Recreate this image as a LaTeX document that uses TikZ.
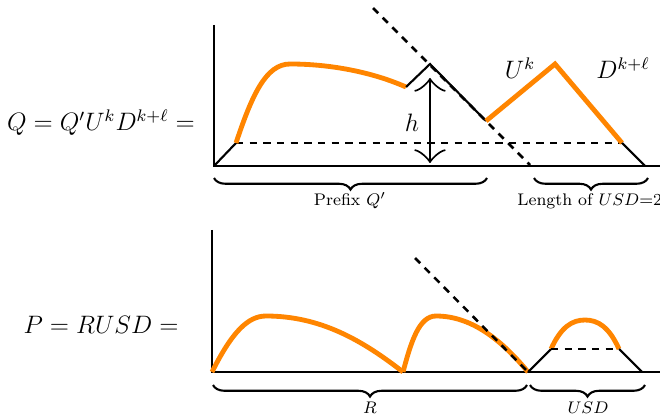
\documentclass[tikz,border=0pt]{standalone}
\usetikzlibrary{arrows.meta,decorations.pathreplacing}
\begin{document}
\begin{tikzpicture}[x=0.476pt,y=-0.476pt,
  axis/.style={line width=0.6pt},
  blk/.style={line width=1pt},
  org/.style={line width=2.3pt,draw={rgb,255:red,255;green,133;blue,0}},
  dsh/.style={line width=1.2pt,dash pattern=on 3.5pt off 3pt},
  brc/.style={decorate,decoration={brace,mirror,amplitude=5.5pt},line width=1pt},
  blab/.style={font=\footnotesize,inner sep=0pt},
  mlab/.style={font=\fontsize{11.5}{14}\selectfont,inner sep=0pt}]
\useasboundingbox (0,0) rectangle (660,418);
\clip (0,0) rectangle (660,418);
% ---------- top panel ----------
\coordinate (o1) at (214,166);
\coordinate (t1) at (214,25);
\coordinate (e1) at (662,166);
\coordinate (a1) at (236,143);
\coordinate (p1) at (290,64);
\coordinate (b1) at (406,87);
\coordinate (c1) at (430,64);
\coordinate (d1) at (486,121);
\coordinate (f1) at (555,64);
\coordinate (g1) at (622,143);
\coordinate (h1) at (645,166);
\coordinate (s1) at (373,8);
\coordinate (s2) at (530,165);
\coordinate (ar1) at (430,78);
\coordinate (ar2) at (430,163);
\draw[axis] (t1) -- (o1) -- (e1);
\draw[dsh] (s1) -- (s2);
\draw[dsh] (a1) -- (g1);
\draw[blk] (o1) -- (a1);
\draw[org] (a1) .. controls (252,95) and (266,64) .. (p1)
  .. controls (330,64) and (372,72) .. (b1);
\draw[blk] (b1) -- (c1) -- (d1);
\draw[org,line join=miter] (d1) -- (f1) -- (g1);
\draw[blk] (g1) -- (h1);
\draw[blk,{Classical TikZ Rightarrow[width=15pt,length=6.5pt]}-{Classical TikZ Rightarrow[width=15pt,length=6.5pt]}] (ar1) -- (ar2);
\node[mlab] (hl) at (412,123) {$h$};
\node[mlab] (uk) at (520,68) {$U^k$};
\node[mlab] (dk) at (623,68) {$D^{k+\ell}$};
\coordinate (bq1) at (214,178);
\coordinate (bq2) at (487,178);
\coordinate (bu1) at (534,178);
\coordinate (bu2) at (648,178);
\draw[brc] (bq1) -- (bq2);
\draw[brc] (bu1) -- (bu2);
\node[blab] (pq) at (350,201) {Prefix $Q'$};
\node[blab,anchor=west] (lu) at (517,201) {Length of $USD$=$2\ell$};
\node[mlab] (qeq) at (101,123) {$Q=Q'U^kD^{k+\ell}=$};
% ---------- bottom panel ----------
\coordinate (o2) at (212,372);
\coordinate (t2) at (212,230);
\coordinate (e2) at (662,372);
\coordinate (m1) at (403,372);
\coordinate (m2) at (528,372);
\coordinate (q1) at (551,349);
\coordinate (q2) at (619,349);
\coordinate (q3) at (642,372);
\coordinate (s3) at (415,258);
\draw[axis] (t2) -- (o2) -- (e2);
\draw[org] (o2) .. controls (232,332) and (248,316) .. (266,316)
  .. controls (320,316) and (362,340) .. (m1);
\draw[org] (m1) .. controls (411,342) and (419,316) .. (436,316)
  .. controls (470,316) and (500,338) .. (m2);
\draw[dsh] (s3) -- (m2);
\draw[blk] (m2) -- (q1);
\draw[org] (q1) .. controls (561,327) and (572,320) .. (585,320)
  .. controls (598,320) and (609,327) .. (q2);
\draw[dsh] (q1) -- (q2);
\draw[blk] (q2) -- (q3);
\coordinate (br1) at (213,385);
\coordinate (br2) at (527,385);
\coordinate (bs1) at (530,385);
\coordinate (bs2) at (645,385);
\draw[brc] (br1) -- (br2);
\draw[brc] (bs1) -- (bs2);
\node[blab] (rl) at (370,408) {$R$};
\node[blab] (ul) at (588,408) {$USD$};
\node[mlab] (peq) at (101,325) {$P=RUSD=$};
\end{tikzpicture}
\end{document}
